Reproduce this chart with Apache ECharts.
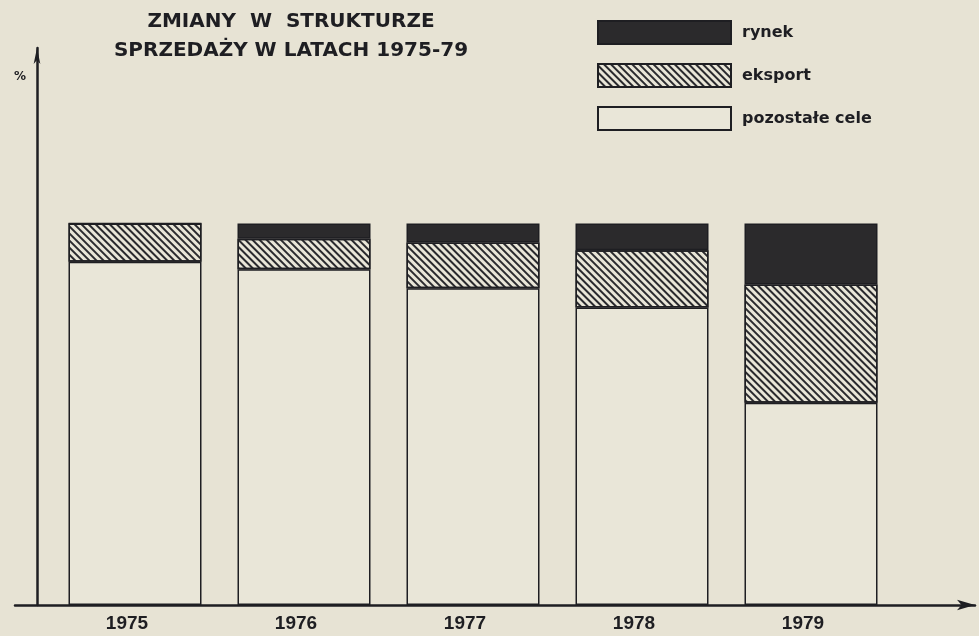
<!DOCTYPE html>
<html>
<head>
<meta charset="utf-8">
<script src="https://cdn.jsdelivr.net/npm/echarts@6/dist/echarts.min.js"></script>
<style>
  html, body { margin: 0; padding: 0; background: #e7e3d4; }
  #chart { width: 979px; height: 636px; }
</style>
</head>
<body>
<div id="chart"></div>
<script>
// Data (shares in %)
const years = ['1975', '1976', '1977', '1978', '1979'];
const pozostale = [90, 88, 83, 78, 53];   // pozostałe cele
const eksport = [10, 8, 12, 15, 31];       // eksport
const rynek = [0, 4, 5, 7, 16];            // rynek
const titleLines = ['ZMIANY  W  STRUKTURZE', 'SPRZEDAŻY W LATACH 1975-79'];
const seriesNames = ['rynek', 'eksport', 'pozostałe cele'];

const ink = '#1e1e22';
const paper = '#e9e6d8';

const chart = echarts.init(document.getElementById('chart'), null, { renderer: 'canvas' });

const barBase = {
  type: 'bar',
  stack: 'total',
  barWidth: 133,
  xAxisIndex: 0,
  yAxisIndex: 0,
  animation: false,
  emphasis: { disabled: true }
};

chart.setOption({
  backgroundColor: '#e7e3d4',
  animation: false,
  textStyle: { fontFamily: 'DejaVu Sans' },
  grid: [
    // grid for the bars
    { left: 50.5, right: 83.5, top: 48, bottom: 31, containLabel: false },
    // full-width grid carrying the arrowed axis lines
    { left: 15, right: 4, top: 48, bottom: 31, containLabel: false }
  ],
  graphic: [
    { type: 'text', x: 291, y: 22, style: { text: titleLines[0], font: 'bold 20px "DejaVu Sans"', fill: ink, textAlign: 'center', textVerticalAlign: 'middle', align: 'center', verticalAlign: 'middle' } },
    { type: 'text', x: 291, y: 51, style: { text: titleLines[1], font: 'bold 20px "DejaVu Sans"', fill: ink, textAlign: 'center', textVerticalAlign: 'middle', align: 'center', verticalAlign: 'middle' } },
    { type: 'text', x: 20, y: 77, style: { text: '%', font: 'bold 12px "DejaVu Sans"', fill: ink, textAlign: 'center', textVerticalAlign: 'middle', align: 'center', verticalAlign: 'middle' } }
  ],
  legend: {
    orient: 'vertical',
    left: 597,
    top: 20,
    padding: 0,
    itemWidth: 133,
    itemHeight: 23,
    itemGap: 18,
    icon: 'rect',
    data: seriesNames,
    selectedMode: false,
    textStyle: { fontFamily: 'DejaVu Sans', fontWeight: 'bold', fontSize: 16, color: ink, padding: [0, 0, 0, 6] }
  },
  xAxis: [
    {
      type: 'category',
      gridIndex: 0,
      data: years,
      axisLine: { show: false },
      axisTick: { show: false },
      splitLine: { show: false },
      axisLabel: {
        fontFamily: '"Liberation Sans Narrow", "Liberation Sans", sans-serif',
        fontWeight: 'bold',
        fontSize: 19,
        color: ink,
        margin: 9,
        padding: [0, 16, 0, 0]
      }
    },
    {
      type: 'value',
      gridIndex: 1,
      min: 0,
      max: 1,
      axisLine: { show: true, onZero: false, symbol: ['none', 'arrow'], symbolSize: [8, 18], lineStyle: { color: ink, width: 2.5 } },
      axisTick: { show: false },
      axisLabel: { show: false },
      splitLine: { show: false }
    }
  ],
  yAxis: [
    {
      type: 'value',
      gridIndex: 0,
      min: 0,
      max: 146,
      axisLine: { show: false },
      axisTick: { show: false },
      axisLabel: { show: false },
      splitLine: { show: false }
    },
    {
      type: 'value',
      gridIndex: 1,
      min: 0,
      max: 1,
      offset: -22,
      axisLine: { show: true, onZero: false, symbol: ['none', 'arrow'], symbolSize: [5, 16], lineStyle: { color: ink, width: 2.5 } },
      axisTick: { show: false },
      axisLabel: { show: false },
      splitLine: { show: false }
    }
  ],
  series: [
    Object.assign({}, barBase, {
      name: seriesNames[2],
      data: pozostale,
      itemStyle: { color: paper, borderColor: ink, borderWidth: 1.5 }
    }),
    Object.assign({}, barBase, {
      name: seriesNames[1],
      data: eksport,
      itemStyle: {
        color: paper, borderColor: ink, borderWidth: 1.5,
        decal: {
          symbol: 'rect',
          symbolSize: 1,
          dashArrayX: [1, 0],
          dashArrayY: [2, 3],
          rotation: Math.PI / 4,
          color: '#2a2a2e'
        }
      }
    }),
    Object.assign({}, barBase, {
      name: seriesNames[0],
      data: rynek,
      itemStyle: { color: '#2b2a2c', borderColor: ink, borderWidth: 1.5 }
    })
  ]
});
</script>
</body>
</html>
